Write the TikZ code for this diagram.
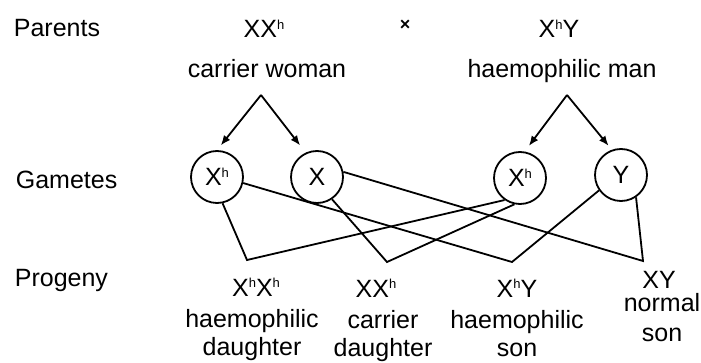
\documentclass[tikz,border=0pt]{standalone}
\usepackage{fontspec}
\setmainfont{Liberation Sans}
\usetikzlibrary{arrows.meta, positioning}

\tikzset{
  lbl/.style={inner sep=0pt, font=\fontsize{12.5}{14}\selectfont},
  geno/.style={lbl, anchor=base},
  desc/.style={lbl, align=center},
  gamete/.style={lbl, draw, circle, minimum size=26pt},
}

% X with small superscript h
\newcommand{\Xh}{X\raisebox{4.2pt}{\fontsize{6.5}{7}\selectfont h}}

\begin{document}
\begin{tikzpicture}[x=0.5pt, y=-0.5pt, >={Latex[length=5pt,width=4pt]}, line width=0.9pt]
\useasboundingbox (0,0) rectangle (701,363);

% -----------------------------------------------------
%  row titles
% -----------------------------------------------------
\node[lbl, anchor=base west] (rowP) at (13,37) {Parents};
\node[lbl, anchor=base west] (rowG) at (15,189) {Gametes};
\node[lbl, anchor=base west] (rowF) at (14,286) {Progeny};

% -----------------------------------------------------
%  parents
% -----------------------------------------------------
\node[geno] (mum) at (264,38) {X\Xh};
\node[lbl, font=\small\bfseries] (times) at (405,25) {×};
\node[geno] (dad) at (559,38) {\Xh Y};

\node[lbl, below=10pt of mum, xshift=1.5pt] (woman) {carrier woman};
\node[lbl, below=10pt of dad, xshift=1.5pt] (man) {haemophilic man};

\coordinate (splitW) at (261,95);
\coordinate (splitM) at (567,95);

% -----------------------------------------------------
%  gametes
% -----------------------------------------------------
\node[gamete] (gXh1) at (217,177) {\Xh};
\node[gamete] (gX)   at (317,177) {X};
\node[gamete] (gXh2) at (520,178) {\Xh};
\node[gamete] (gY)   at (621,175) {Y};

\draw[->, shorten >=3pt]   (splitW) -- (gXh1.90);
\draw[->, shorten >=4.5pt] (splitW) -- (gX.115);
\draw[->, shorten >=3.5pt] (splitM) -- (gXh2.80);
\draw[->, shorten >=2.5pt] (splitM) -- (gY.110);

% -----------------------------------------------------
%  crossing lines
% -----------------------------------------------------
\coordinate (jHH) at (247,260);
\coordinate (jXH) at (387,262);
\coordinate (jHY) at (512,262);
\coordinate (jXY) at (643,261);

\draw (gXh1.282) -- (jHH) -- (gXh2.235);
\draw (gX.304)   -- (jXH) -- (gXh2.258);
\draw (gXh1.347) -- (jHY) -- (gY.215);
\draw (gX.11)    -- (jXY) -- (gY.304);

% -----------------------------------------------------
%  progeny
% -----------------------------------------------------
\node[geno] (pHH) at (256,296) {\Xh\Xh};
\node[geno] (pXH) at (376,297) {X\Xh};
\node[geno] (pHY) at (517,297) {\Xh Y};
\node[geno] (pXY) at (659,288) {XY};

\node[desc, below=6pt of pHH, xshift=-2pt]  (dHH) {haemophilic\\daughter};
\node[desc, below=6pt of pXH, xshift=3.5pt] (dXH) {carrier\\daughter};
\node[desc, below=6pt of pHY]               (dHY) {haemophilic\\son};
\node[desc, below=2pt of pXY, xshift=1.5pt, font=\fontsize{12.5}{15}\selectfont] (dXY) {normal\\son};

\end{tikzpicture}
\end{document}
